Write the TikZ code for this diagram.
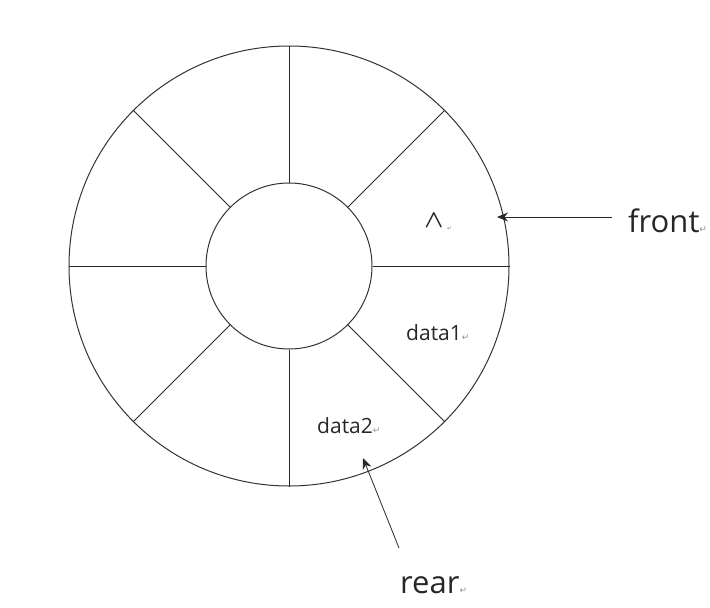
\documentclass[tikz,border=0pt]{standalone}
\usepackage{fontspec}
\setmainfont{Open Sans}
\newfontfamily\symfont{DejaVu Sans}
\usetikzlibrary{arrows.meta}
\newcommand\retmark[1]{{\symfont\fontsize{#1}{#1}\selectfont\color{black!45}↵}}
\begin{document}
\begin{tikzpicture}[x=1pt,y=-1pt,
  ring/.style={draw=black!80, line width=1pt, circle, inner sep=0pt},
  spoke/.style={draw=black!85, line width=0.8pt},
  lbl/.style={inner sep=0pt, anchor=base west, text=black!85},
  ptr/.style={-{Stealth[length=11pt,width=9pt]}, line width=0.8pt, draw=black!85}]
\useasboundingbox (0,0) rectangle (710,608);
\node[ring, minimum size=440pt] (outer) at (289,266) {};
\node[ring, minimum size=166pt] (inner) at (289,266) {};
\foreach \a in {0,45,...,315} \draw[spoke] (inner.\a) -- (outer.\a);
% labels
\node[inner sep=0pt, text=black!85, font=\fontsize{27}{27}\selectfont\boldmath] (empty) at (434,221) {$\wedge$};
\node[anchor=base west, inner sep=0pt] (emptymark) at (447,230) {\retmark{6}};
\node[lbl, font=\fontsize{21}{21}\selectfont] (data1) at (406,340) {data1\retmark{9}};
\node[lbl, font=\fontsize{21}{21}\selectfont] (data2) at (317,433) {data2\retmark{9}};
\node[lbl, font=\fontsize{31}{31}\selectfont] (front) at (628,232) {front\retmark{9}};
\node[lbl, font=\fontsize{31}{31}\selectfont] (rear) at (400,593) {rear\retmark{9}};
% arrows
\coordinate (fronttail) at (612,217);
\coordinate (fronttip) at (497,217);
\coordinate (reartail) at (399,548);
\coordinate (reartip) at (363,458);
\draw[ptr] (fronttail) -- (fronttip);
\draw[ptr] (reartail) -- (reartip);
\end{tikzpicture}
\end{document}
